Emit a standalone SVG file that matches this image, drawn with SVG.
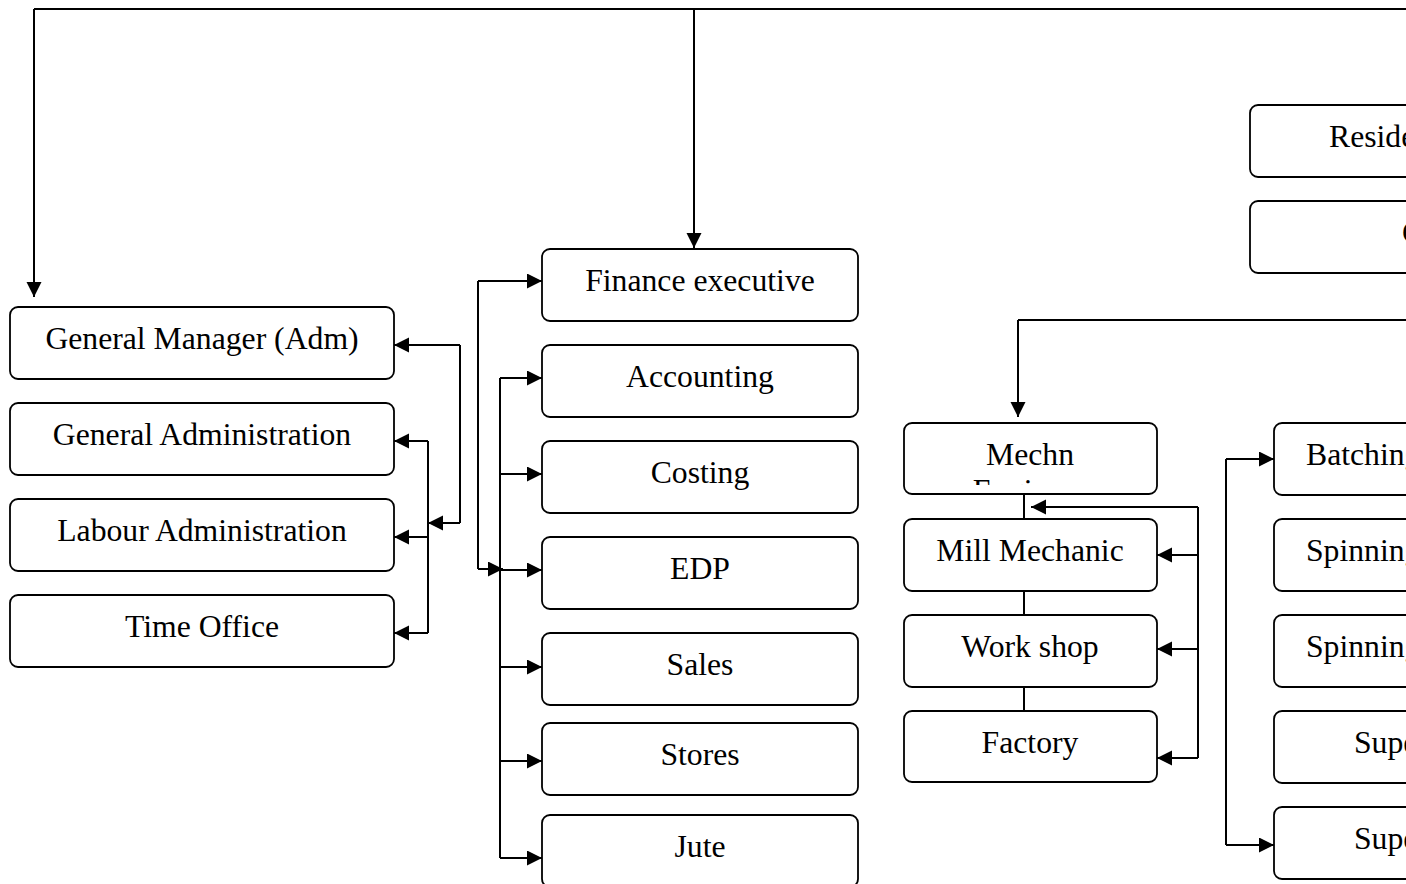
<svg xmlns="http://www.w3.org/2000/svg" width="1406" height="884" viewBox="0 0 1406 884">
<defs>
<style>
.box{fill:#fff;stroke:#000;stroke-width:1.8}
.t{font-family:"Liberation Serif","Times New Roman",serif;font-size:31.7px;fill:#000;text-anchor:middle}
.ts{font-family:"Liberation Serif","Times New Roman",serif;font-size:31.7px;fill:#000}
.c{fill:none;stroke:#000;stroke-width:2}
.a{fill:none;stroke:#000;stroke-width:2;marker-end:url(#ah)}
</style>
<marker id="ah" markerUnits="userSpaceOnUse" markerWidth="16" markerHeight="16" refX="15" refY="7.5" orient="auto">
<path d="M0,0 L15,7.5 L0,15 z" fill="#000"/>
</marker>
<clipPath id="clipMechn"><rect x="905" y="424" width="250" height="61"/></clipPath>
</defs>
<rect width="1406" height="884" fill="#fff"/>

<g id="connectors">
<polyline class="c" points="34,9 1406,9"/>
<polyline class="a" points="34,9 34,297"/>
<polyline class="a" points="694,9 694,248"/>
<!-- left admin group -->
<polyline class="a" points="460,345 394,345"/>
<polyline class="c" points="460,345 460,523"/>
<polyline class="a" points="460,523 428,523"/>
<polyline class="c" points="428,441 428,633"/>
<polyline class="a" points="428,441 394,441"/>
<polyline class="a" points="428,537 394,537"/>
<polyline class="a" points="428,633 394,633"/>
<!-- finance group -->
<polyline class="c" points="478,281 478,569"/>
<polyline class="a" points="478,281 542,281"/>
<polyline class="a" points="478,569 503,569"/>
<polyline class="c" points="500,378 500,858"/>
<polyline class="a" points="500,378 542,378"/>
<polyline class="a" points="500,474 542,474"/>
<polyline class="a" points="500,570 542,570"/>
<polyline class="a" points="500,667 542,667"/>
<polyline class="a" points="500,761 542,761"/>
<polyline class="a" points="500,858 542,858"/>
<!-- mechanical group -->
<polyline class="c" points="1018,320 1406,320"/>
<polyline class="a" points="1018,320 1018,417"/>
<polyline class="c" points="1024,494 1024,519"/>
<polyline class="c" points="1024,591 1024,615"/>
<polyline class="c" points="1024,687 1024,711"/>
<polyline class="c" points="1198,507 1198,758"/>
<polyline class="a" points="1198,507 1031,507"/>
<polyline class="a" points="1198,555 1157,555"/>
<polyline class="a" points="1198,649 1157,649"/>
<polyline class="a" points="1198,758 1157,758"/>
<!-- production group -->
<polyline class="c" points="1226,459 1226,845"/>
<polyline class="a" points="1226,459 1274,459"/>
<polyline class="a" points="1226,845 1274,845"/>
</g>

<g id="n-gm"><rect class="box" x="10" y="307" width="384" height="72" rx="8"/><text class="t" x="202" y="349">General Manager (Adm)</text></g>
<g id="n-genadmin"><rect class="box" x="10" y="403" width="384" height="72" rx="8"/><text class="t" x="202" y="445">General Administration</text></g>
<g id="n-labadmin"><rect class="box" x="10" y="499" width="384" height="72" rx="8"/><text class="t" x="202" y="541">Labour Administration</text></g>
<g id="n-timeoffice"><rect class="box" x="10" y="595" width="384" height="72" rx="8"/><text class="t" x="202" y="637">Time Office</text></g>

<g id="n-finance"><rect class="box" x="542" y="249" width="316" height="72" rx="8"/><text class="t" x="700" y="291">Finance executive</text></g>
<g id="n-accounting"><rect class="box" x="542" y="345" width="316" height="72" rx="8"/><text class="t" x="700" y="387">Accounting</text></g>
<g id="n-costing"><rect class="box" x="542" y="441" width="316" height="72" rx="8"/><text class="t" x="700" y="483">Costing</text></g>
<g id="n-edp"><rect class="box" x="542" y="537" width="316" height="72" rx="8"/><text class="t" x="700" y="579">EDP</text></g>
<g id="n-sales"><rect class="box" x="542" y="633" width="316" height="72" rx="8"/><text class="t" x="700" y="675">Sales</text></g>
<g id="n-stores"><rect class="box" x="542" y="723" width="316" height="72" rx="8"/><text class="t" x="700" y="765">Stores</text></g>
<g id="n-jute"><rect class="box" x="542" y="815" width="316" height="72" rx="8"/><text class="t" x="700" y="857">Jute</text></g>

<g id="n-mechn"><rect class="box" x="904" y="423" width="253" height="71" rx="8"/><text class="t" x="1030" y="465">Mechn</text><text class="t" x="1030" y="501" clip-path="url(#clipMechn)">Engineer</text></g>
<g id="n-millmech"><rect class="box" x="904" y="519" width="253" height="72" rx="8"/><text class="t" x="1030" y="561">Mill Mechanic</text></g>
<g id="n-workshop"><rect class="box" x="904" y="615" width="253" height="72" rx="8"/><text class="t" x="1030" y="657">Work shop</text></g>
<g id="n-factory"><rect class="box" x="904" y="711" width="253" height="71" rx="8"/><text class="t" x="1030" y="753">Factory</text></g>

<g id="n-resident"><rect class="box" x="1250" y="105" width="200" height="72" rx="8"/><text class="ts" x="1329" y="147">Reside</text></g>
<g id="n-c"><rect class="box" x="1250" y="201" width="200" height="72" rx="8"/><text class="ts" x="1402" y="243">C</text></g>

<g id="n-batching"><rect class="box" x="1274" y="423" width="200" height="72" rx="8"/><text class="ts" x="1306" y="465">Batching</text></g>
<g id="n-spinning1"><rect class="box" x="1274" y="519" width="200" height="72" rx="8"/><text class="ts" x="1306" y="561">Spinning</text></g>
<g id="n-spinning2"><rect class="box" x="1274" y="615" width="200" height="72" rx="8"/><text class="ts" x="1306" y="657">Spinning</text></g>
<g id="n-supe1"><rect class="box" x="1274" y="711" width="200" height="72" rx="8"/><text class="ts" x="1354" y="753">Supe</text></g>
<g id="n-supe2"><rect class="box" x="1274" y="807" width="200" height="72" rx="8"/><text class="ts" x="1354" y="849">Supe</text></g>
</svg>
